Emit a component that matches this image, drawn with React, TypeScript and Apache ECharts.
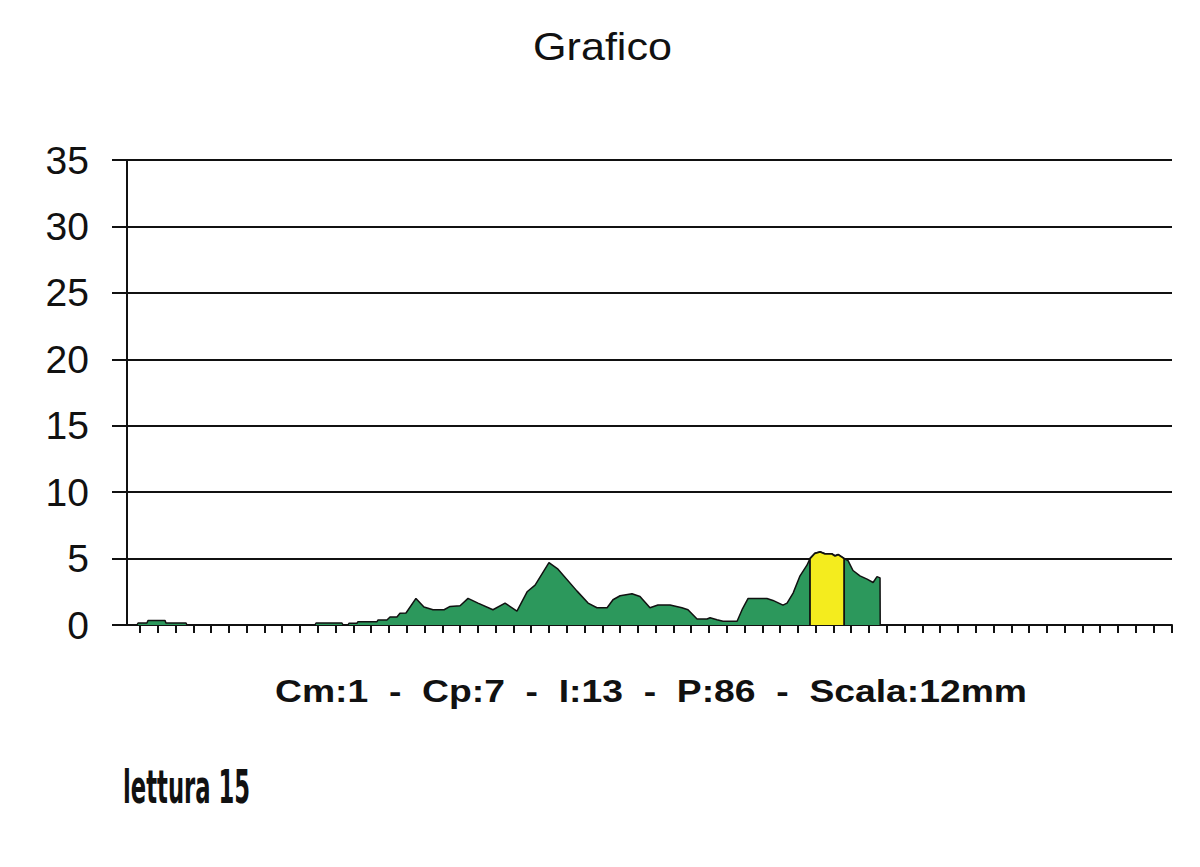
import React, { useEffect, useRef } from "react";
import * as echarts from "echarts";

// Profile readings: position along the track (in tick units) and height.
const positions = [
  -0.17, -0.11, 0.39, 0.45, 1.41, 1.46, 2.59, 2.64,
  9.84, 9.9, 11.36, 11.42, 11.7, 11.75, 12.2, 12.26, 13.33, 13.39, 13.89, 14.06,
  14.45, 14.62, 14.96, 15.52, 15.97, 16.48, 17.1, 17.44, 18.0, 18.45,
  19.01, 19.85, 20.53, 21.2, 21.77, 22.22, 23.0, 23.51, 24.58, 25.2,
  25.7, 26.27, 26.6, 27.0, 27.67, 28.12, 28.52, 28.68, 29.13, 29.81,
  30.48, 30.82, 31.33, 31.89, 32.06, 32.45, 32.79, 33.58, 33.86, 34.2,
  35.26, 35.6, 36.16, 36.39, 36.73, 37.12, 37.51, 37.68, 37.96, 38.25,
  38.53, 38.92, 39.09, 39.26, 39.6, 39.82, 40.1, 40.49, 40.89, 41.23,
  41.45, 41.62, 41.63,
];
const readings = [
  0, 0.15, 0.15, 0.33, 0.33, 0.15, 0.15, 0,
  0, 0.15, 0.15, 0, 0, 0.13, 0.13, 0.25, 0.25, 0.38, 0.38, 0.6,
  0.6, 0.88, 0.9, 2.0, 1.35, 1.15, 1.15, 1.4, 1.45, 2.0,
  1.65, 1.15, 1.65, 1.05, 2.5, 3.0, 4.7, 4.2, 2.55, 1.65,
  1.3, 1.3, 1.9, 2.2, 2.35, 2.15, 1.55, 1.3, 1.5, 1.5,
  1.3, 1.15, 0.45, 0.45, 0.55, 0.4, 0.28, 0.28, 1.15, 2.0,
  2.0, 1.85, 1.5, 1.65, 2.4, 3.7, 4.5, 5.0, 5.4, 5.5,
  5.35, 5.35, 5.2, 5.3, 5.0, 4.85, 4.1, 3.7, 3.45, 3.2,
  3.64, 3.55, 0,
];

// Highlighted stretch of the profile (yellow band).
const highlightFrom = 37.68;
const highlightTo = 39.6;

// Axis ticks and scale.
const xTickPositions = [
  0, 1, 2, 3, 4, 5, 6, 7, 8, 9, 10, 11, 12, 13, 14, 15, 16, 17, 18, 19,
  20, 21, 22, 23, 24, 25, 26, 27, 28, 29, 30, 31, 32, 33, 34, 35, 36, 37, 38, 39,
  40, 41, 42, 43, 44, 45, 46, 47, 48, 49, 50, 51, 52, 53, 54, 55, 56, 57, 58,
];
const yMin = 0;
const yMax = 35;
const yStep = 5;

const titleText = "Grafico";
const footerText = "Cm:1  -  Cp:7  -  I:13  -  P:86  -  Scala:12mm";
const noteText = "lettura 15";

const SANS = '"Liberation Sans", Arial, sans-serif';
const CONDENSED = '"DejaVu Sans Condensed", "DejaVu Sans", sans-serif';

function measure(text: string, font: string): number {
  const ctx = document.createElement("canvas").getContext("2d");
  if (!ctx) return 1;
  ctx.font = font;
  return ctx.measureText(text).width || 1;
}

export default function App() {
  const ref = useRef<HTMLDivElement>(null);

  useEffect(() => {
    if (!ref.current) return;
    const chart = echarts.init(ref.current, undefined, { renderer: "svg" });

    const profile = positions.map((p, i) => [p, readings[i]]);
    const band = [
      [highlightFrom, 0],
      ...profile.filter(([p]) => p >= highlightFrom && p <= highlightTo),
      [highlightTo, 0],
    ];

    const titleScale = 139 / measure(titleText, `39px ${SANS}`);
    const footerScale = 752 / measure(footerText, `bold 32px ${SANS}`);
    const noteScale = 127 / measure(noteText, `bold 47px ${CONDENSED}`);

    chart.setOption({
      animation: false,
      backgroundColor: "#ffffff",
      grid: { left: 127, top: 160, right: 28, bottom: 242 },
      xAxis: {
        type: "value",
        min: -0.731,
        max: 58.04,
        axisLine: { show: true, onZero: false, lineStyle: { color: "#111", width: 2 } },
        axisTick: {
          show: true,
          length: 8,
          customValues: xTickPositions,
          lineStyle: { color: "#111", width: 2 },
        },
        axisLabel: { show: false },
        splitLine: { show: false },
      },
      yAxis: {
        type: "value",
        min: yMin,
        max: yMax,
        interval: yStep,
        axisLine: { show: true, onZero: false, lineStyle: { color: "#111", width: 2 } },
        axisTick: { show: true, length: 15, lineStyle: { color: "#111", width: 2 } },
        axisLabel: { fontSize: 39, fontFamily: SANS, color: "#111", margin: 38 },
        splitLine: { show: true, lineStyle: { color: "#111", width: 2 } },
      },
      series: [
        {
          type: "line",
          data: profile,
          symbol: "none",
          smooth: false,
          lineStyle: { color: "#111", width: 1.5 },
          areaStyle: { color: "#2c985c", opacity: 1 },
          z: 2,
        },
        {
          type: "line",
          data: band,
          symbol: "none",
          smooth: false,
          lineStyle: { color: "#111", width: 1.8 },
          areaStyle: { color: "#f4ec1e", opacity: 1 },
          z: 3,
        },
      ],
      graphic: [
        {
          type: "text",
          x: 602.5,
          y: 47,
          scaleX: titleScale,
          style: {
            text: titleText,
            fontSize: 39,
            fontFamily: SANS,
            fill: "#111",
            align: "center",
            verticalAlign: "middle",
          },
        },
        {
          type: "text",
          x: 651,
          y: 691,
          scaleX: footerScale,
          style: {
            text: footerText,
            fontSize: 32,
            fontWeight: "bold",
            fontFamily: SANS,
            fill: "#111",
            align: "center",
            verticalAlign: "middle",
          },
        },
        {
          type: "text",
          x: 123,
          y: 787,
          scaleX: noteScale,
          style: {
            text: noteText,
            fontSize: 47,
            fontWeight: "bold",
            fontFamily: CONDENSED,
            fill: "#111",
            align: "left",
            verticalAlign: "middle",
          },
        },
      ],
    });

    return () => chart.dispose();
  }, []);

  return (
    <div
      ref={ref}
      style={{ position: "absolute", left: 0, top: 0, width: 1200, height: 867, background: "#fff" }}
    />
  );
}
